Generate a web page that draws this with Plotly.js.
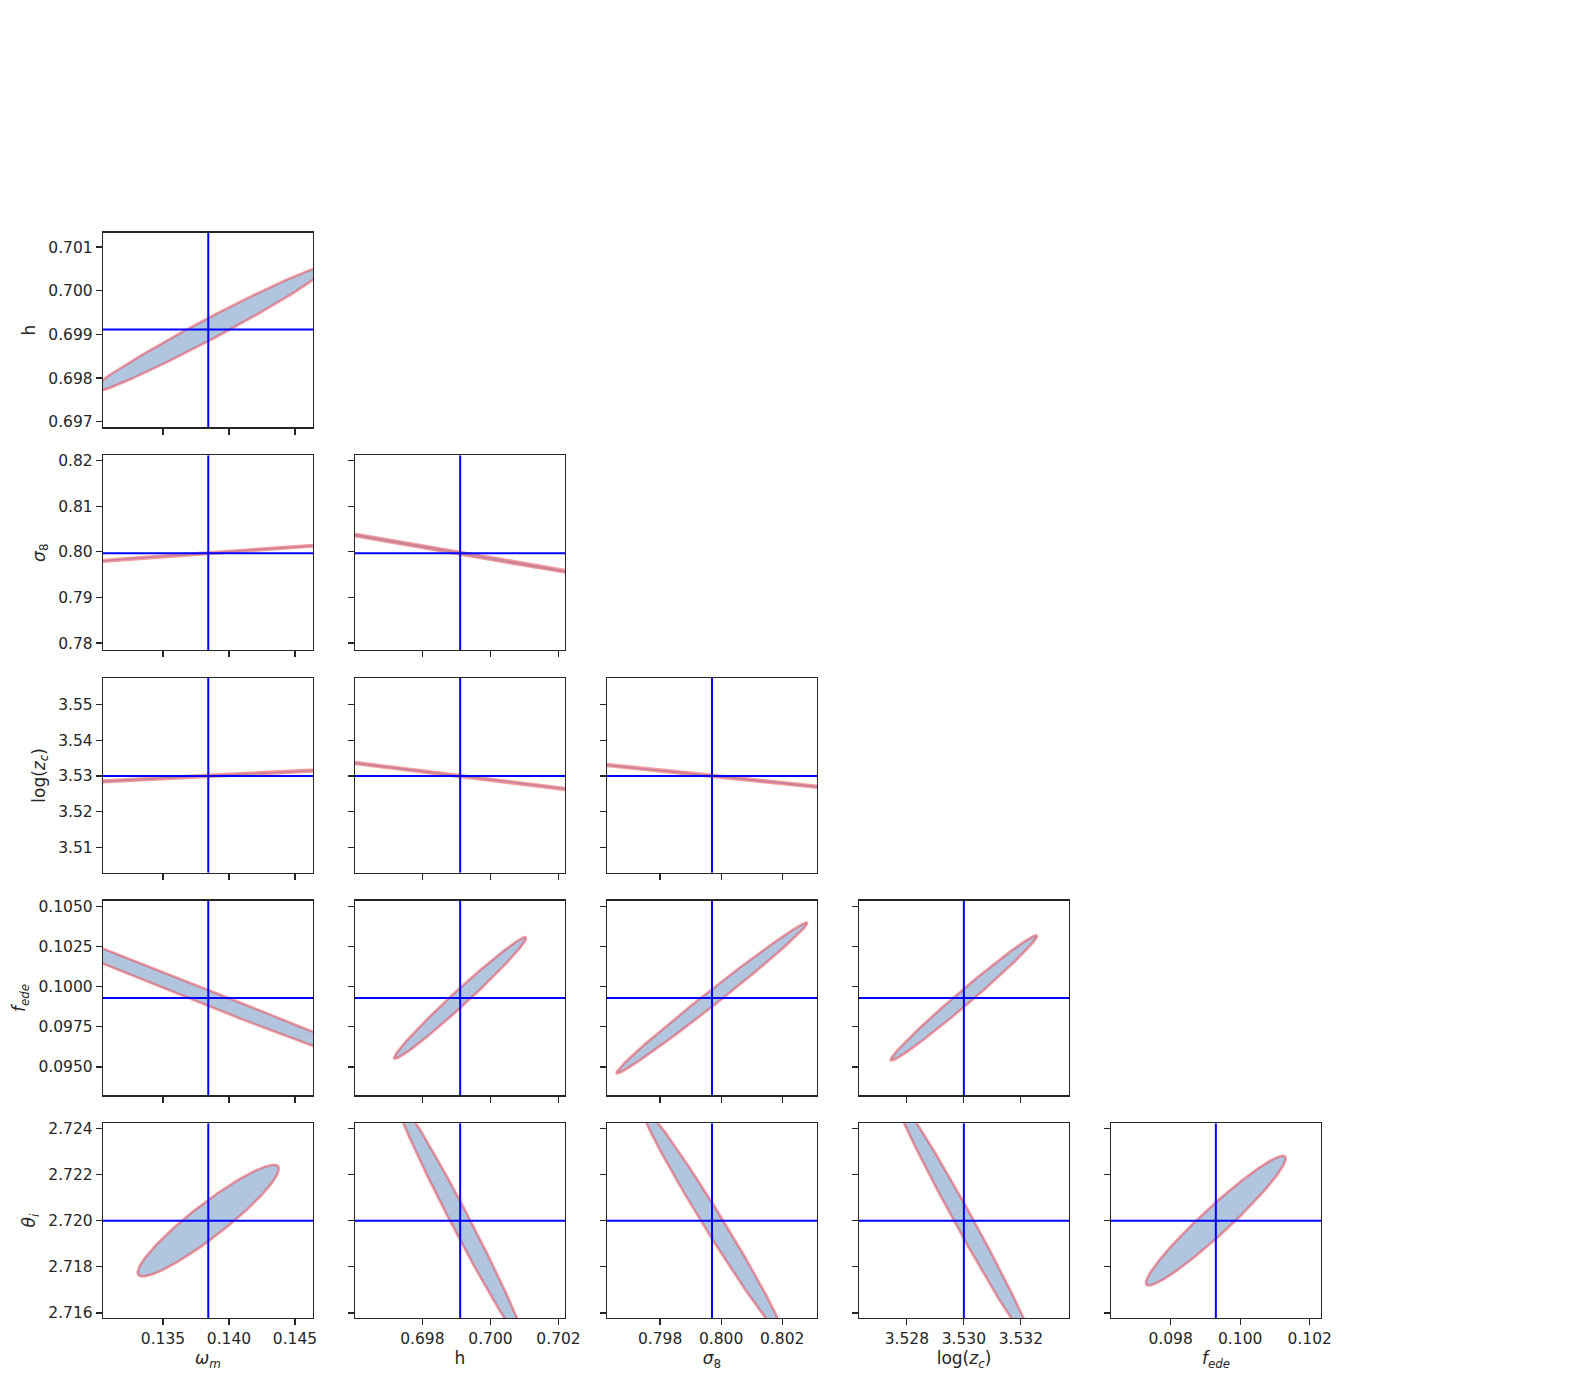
<!DOCTYPE html>
<html>
<head>
<meta charset="utf-8">
<script src="https://cdn.plot.ly/plotly-3.0.1.min.js"></script>
<style>html,body{margin:0;padding:0;background:#fff;}</style>
</head>
<body>
<div id="chart" style="width:1584px;height:1384px;"></div>
<script>
// ---------------- data ----------------
// parameters: 0 omega_m, 1 h, 2 sigma8, 3 log(z_c), 4 f_ede, 5 theta_i
const paramLabels = [
  "<i>ω</i><sub><i>m</i></sub>",
  "h",
  "<i>σ</i><sub>8</sub>",
  "log(<i>z</i><sub><i>c</i></sub>)",
  "<i>f</i><sub><i>ede</i></sub>",
  "<i>θ</i><sub><i>i</i></sub>"
];
const fiducial = [0.13843, 0.69911, 0.7997, 3.5300, 0.0993, 2.7200];

// x ranges for the columns (params 0..4)
const xRangeLo = [0.130455, 0.69602, 0.79626, 3.52632, 0.096286];
const xRangeHi = [0.146364, 0.70219, 0.80314, 3.53369, 0.102323];
// y ranges for the rows (params 1..5)
const yRangeLo = [0.69687, 0.77847, 3.50283, 0.09323, 2.71578];
const yRangeHi = [0.70133, 0.82116, 3.55748, 0.10536, 2.72422];

// tick values / labels, x (columns)
const xTickVals = [
  [0.135, 0.140, 0.145],
  [0.698, 0.700, 0.702],
  [0.798, 0.800, 0.802],
  [3.528, 3.530, 3.532],
  [0.098, 0.100, 0.102]
];
const xTickText = [
  ["0.135", "0.140", "0.145"],
  ["0.698", "0.700", "0.702"],
  ["0.798", "0.800", "0.802"],
  ["3.528", "3.530", "3.532"],
  ["0.098", "0.100", "0.102"]
];
// tick values / labels, y (rows)
const yTickVals = [
  [0.697, 0.698, 0.699, 0.700, 0.701],
  [0.78, 0.79, 0.80, 0.81, 0.82],
  [3.51, 3.52, 3.53, 3.54, 3.55],
  [0.0950, 0.0975, 0.1000, 0.1025, 0.1050],
  [2.716, 2.718, 2.720, 2.722, 2.724]
];
const yTickText = [
  ["0.697", "0.698", "0.699", "0.700", "0.701"],
  ["0.78", "0.79", "0.80", "0.81", "0.82"],
  ["3.51", "3.52", "3.53", "3.54", "3.55"],
  ["0.0950", "0.0975", "0.1000", "0.1025", "0.1050"],
  ["2.716", "2.718", "2.720", "2.722", "2.724"]
];

// ellipse for each panel (row, col): sigma along x, sigma along y, correlation
const panelRow = [0, 1, 1, 2, 2, 2, 3, 3, 3, 3, 4, 4, 4, 4, 4];
const panelCol = [0, 0, 1, 0, 1, 2, 0, 1, 2, 3, 0, 1, 2, 3, 4];
const sigmaX   = [0.00902, 0.03, 0.01, 0.03, 0.01, 0.01, 0.03, 0.00194, 0.00313, 0.00257, 0.00535, 0.001919, 0.002341, 0.002484, 0.00201];
const sigmaY   = [0.001458, 0.006213, 0.012933, 0.005677, 0.011805, 0.008845, 0.009805, 0.00379, 0.0047, 0.0039, 0.00242, 0.0054, 0.0050, 0.00555, 0.00281];
const corr     = [0.9834, 0.99948, -0.99973, 0.99878, -0.99958, -0.99942, -0.99870, 0.986, 0.993, 0.989, 0.928, -0.9875, -0.9875, -0.990, 0.959];

// ---------------- layout helpers ----------------
const W = 1584, H = 1384;
const colLeft0 = 103, colStep = 252, colWidth = 210;
const rowTop0 = 232.7, rowStep = 222.65, rowHeight = 194.7;
const ink = "#262626";
const tickFont = {family: "DejaVu Sans, sans-serif", size: 15.5, color: ink};
const titleFont = {family: "DejaVu Sans, sans-serif", size: 17, color: ink};

const traces = [];
const layout = {
  width: W, height: H,
  margin: {l: 0, r: 0, t: 0, b: 0},
  paper_bgcolor: "#ffffff",
  plot_bgcolor: "#ffffff",
  showlegend: false
};

const NPTS = 720;
for (let k = 0; k < panelRow.length; k++) {
  const r = panelRow[k], c = panelCol[k];
  const n = k + 1;
  const xa = "x" + (n === 1 ? "" : n), ya = "y" + (n === 1 ? "" : n);
  const xKey = "xaxis" + (n === 1 ? "" : n), yKey = "yaxis" + (n === 1 ? "" : n);

  const left = colLeft0 + colStep * c;
  const top = rowTop0 + rowStep * r;
  const isBottom = (r === 4);
  const isLeft = (c === 0);

  const xAxis = {
    domain: [left / W, (left + colWidth) / W],
    range: [xRangeLo[c], xRangeHi[c]],
    anchor: ya,
    tickmode: "array", tickvals: xTickVals[c],
    showticklabels: isBottom,
    ticks: "outside", ticklen: 6, tickwidth: 1.25, tickcolor: ink,
    showline: true, mirror: true, linecolor: ink, linewidth: 1.25,
    showgrid: false, zeroline: false,
    tickfont: tickFont
  };
  if (isBottom) {
    xAxis.ticktext = xTickText[c];
    xAxis.title = {text: paramLabels[c], font: titleFont, standoff: 5};
  } else {
    xAxis.ticktext = xTickVals[c].map(() => "");
  }
  layout[xKey] = xAxis;

  const yAxis = {
    domain: [1 - (top + rowHeight) / H, 1 - top / H],
    range: [yRangeLo[r], yRangeHi[r]],
    anchor: xa,
    tickmode: "array", tickvals: yTickVals[r],
    showticklabels: isLeft,
    ticks: "outside", ticklen: 6, tickwidth: 1.25, tickcolor: ink,
    showline: true, mirror: true, linecolor: ink, linewidth: 1.25,
    showgrid: false, zeroline: false,
    tickfont: tickFont
  };
  if (isLeft) {
    yAxis.ticktext = yTickText[r];
    yAxis.title = {text: paramLabels[r + 1], font: titleFont, standoff: 8};
  } else {
    yAxis.ticktext = yTickVals[r].map(() => "");
  }
  layout[yKey] = yAxis;

  // ellipse outline from centre, sigmas and correlation
  const cx = fiducial[c], cy = fiducial[r + 1];
  const sx = sigmaX[k], sy = sigmaY[k], rho = corr[k];
  const q = Math.sqrt(1 - rho * rho);
  const ex = [], ey = [];
  for (let i = 0; i <= NPTS; i++) {
    const t = 2 * Math.PI * i / NPTS;
    ex.push(cx + sx * Math.cos(t));
    ey.push(cy + sy * (rho * Math.cos(t) + q * Math.sin(t)));
  }
  traces.push({
    type: "scatter", mode: "lines", x: ex, y: ey, xaxis: xa, yaxis: ya,
    fill: "toself", fillcolor: "rgb(178,197,223)",
    line: {color: "rgba(232,60,72,0.5)", width: 2.6},
    hoverinfo: "skip"
  });
  // fiducial lines
  traces.push({
    type: "scatter", mode: "lines", xaxis: xa, yaxis: ya,
    x: [cx, cx], y: [yRangeLo[r], yRangeHi[r]],
    line: {color: "#0000ff", width: 2}, hoverinfo: "skip"
  });
  traces.push({
    type: "scatter", mode: "lines", xaxis: xa, yaxis: ya,
    x: [xRangeLo[c], xRangeHi[c]], y: [cy, cy],
    line: {color: "#0000ff", width: 2}, hoverinfo: "skip"
  });
}

Plotly.newPlot("chart", traces, layout, {staticPlot: true, displayModeBar: false});
</script>
</body>
</html>
